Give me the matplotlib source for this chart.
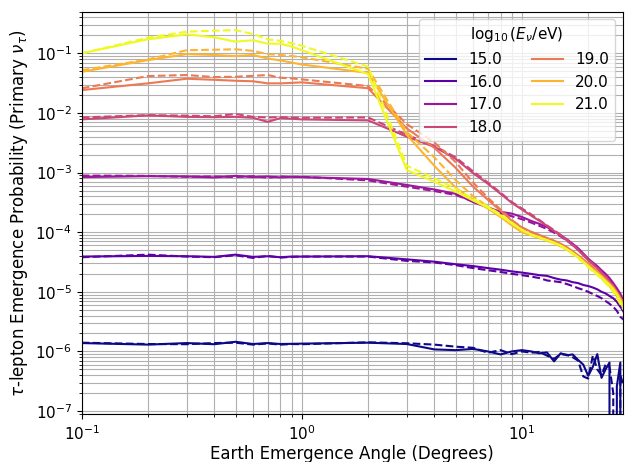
import matplotlib
matplotlib.use("Agg")
import matplotlib.pyplot as plt
import numpy as np

# emergence angles (degrees)
angles = [0.1, 0.2, 0.3, 0.4, 0.5, 0.6, 0.7, 0.8, 0.9,
          1, 2, 3, 4, 5, 6, 7, 8, 9, 10,
          11, 12, 13, 14, 15, 16, 17, 18, 19, 20,
          21, 22, 23, 24, 25, 26, 27, 28, 29]

energies = [15.0, 16.0, 17.0, 18.0, 19.0, 20.0, 21.0]

# solid: first model, dashed: second model
p15 = [1.38e-6, 1.3e-6, 1.38e-6, 1.32e-6, 1.45e-6, 1.33e-6, 1.38e-6, 1.33e-6, 1.34e-6,
       1.35e-6, 1.4e-6, 1.33e-6, 1.08e-6, 1.05e-6, 1.1e-6, 1.0e-6, 8.9e-7, 1.0e-6, 1.05e-6,
       1.0e-6, 9.3e-7, 9.6e-7, 6.8e-7, 9.3e-7, 8.6e-7, 8.9e-7, 7.2e-7, 6.0e-7, 3.9e-7,
       5.5e-7, 9.0e-7, 3.6e-7, 5.0e-7, 6.5e-7, 0, 2.6e-7, 6.5e-7, 0]
p15_alt = [1.4e-6, 1.33e-6, 1.32e-6, 1.38e-6, 1.4e-6, 1.3e-6, 1.36e-6, 1.3e-6, 1.33e-6,
           1.32e-6, 1.42e-6, 1.37e-6, 1.3e-6, 1.2e-6, 1.15e-6, 9.5e-7, 1.05e-6, 9.0e-7, 1.0e-6,
           9.5e-7, 9.8e-7, 8.5e-7, 7.5e-7, 9.0e-7, 8.8e-7, 8.0e-7, 7.0e-7, 3.8e-7, 3.5e-7,
           8.5e-7, 5.0e-7, 4.0e-7, 6.0e-7, 5.5e-7, 2.0e-7, 0, 4.0e-7, 2.6e-7]

p16 = [3.9e-5, 4.0e-5, 3.95e-5, 3.85e-5, 4.2e-5, 3.85e-5, 3.95e-5, 3.8e-5, 3.9e-5,
       3.9e-5, 3.95e-5, 3.5e-5, 3.2e-5, 2.9e-5, 2.7e-5, 2.5e-5, 2.35e-5, 2.2e-5, 2.1e-5,
       2.0e-5, 1.9e-5, 1.85e-5, 1.7e-5, 1.6e-5, 1.55e-5, 1.45e-5, 1.4e-5, 1.3e-5, 1.25e-5,
       1.18e-5, 1.1e-5, 1.0e-5, 9.4e-6, 8.5e-6, 7.8e-6, 6.8e-6, 5.6e-6, 4.6e-6]
p16_alt = [3.8e-5, 4.2e-5, 3.9e-5, 3.8e-5, 4.1e-5, 3.7e-5, 4.0e-5, 3.75e-5, 3.85e-5,
           3.9e-5, 3.9e-5, 3.3e-5, 3.1e-5, 2.8e-5, 2.5e-5, 2.3e-5, 2.15e-5, 2.0e-5, 1.9e-5,
           1.8e-5, 1.7e-5, 1.55e-5, 1.5e-5, 1.45e-5, 1.35e-5, 1.25e-5, 1.15e-5, 1.08e-5, 1.0e-5,
           9.2e-6, 8.5e-6, 7.8e-6, 7.0e-6, 6.3e-6, 5.6e-6, 4.8e-6, 3.8e-6, 3.4e-6]

p17 = [8.4e-4, 8.7e-4, 8.6e-4, 8.3e-4, 8.8e-4, 8.4e-4, 8.6e-4, 8.3e-4, 8.5e-4,
       8.4e-4, 7.8e-4, 6.2e-4, 5.2e-4, 4.4e-4, 3.2e-4, 2.6e-4, 2.2e-4, 2.05e-4, 1.8e-4,
       1.55e-4, 1.38e-4, 1.22e-4, 1.04e-4, 8.9e-5, 7.6e-5, 6.4e-5, 5.4e-5, 4.4e-5, 3.6e-5,
       3.1e-5, 2.7e-5, 2.3e-5, 2.0e-5, 1.7e-5, 1.4e-5, 1.15e-5, 9.3e-6, 7.0e-6]
p17_alt = [8.9e-4, 8.8e-4, 8.5e-4, 8.6e-4, 8.4e-4, 8.7e-4, 8.2e-4, 8.6e-4, 8.4e-4,
           8.5e-4, 7.4e-4, 5.8e-4, 4.9e-4, 4.2e-4, 3.3e-4, 2.6e-4, 2.1e-4, 1.85e-4, 1.65e-4,
           1.45e-4, 1.28e-4, 1.13e-4, 9.8e-5, 8.5e-5, 7.2e-5, 6.1e-5, 5.2e-5, 4.3e-5, 3.5e-5,
           3.0e-5, 2.6e-5, 2.2e-5, 1.9e-5, 1.6e-5, 1.3e-5, 1.05e-5, 8.3e-6, 6.5e-6]

p18 = [0.0078, 0.0091, 0.0086, 0.0085, 0.0086, 0.0083, 0.0071, 0.0082, 0.0080,
       0.0078, 0.0075, 4.0e-3, 2.7e-3, 1.7e-3, 9.8e-4, 6.5e-4, 4.4e-4, 3.1e-4, 2.4e-4,
       1.9e-4, 1.55e-4, 1.28e-4, 1.05e-4, 8.8e-5, 7.3e-5, 6.1e-5, 5.0e-5, 4.1e-5, 3.4e-5,
       2.9e-5, 2.5e-5, 2.1e-5, 1.8e-5, 1.5e-5, 1.25e-5, 1.0e-5, 8.0e-6, 6.3e-6]
p18_alt = [0.0084, 0.0092, 0.0090, 0.0088, 0.0096, 0.0086, 0.0084, 0.0085, 0.0084,
           0.0083, 0.0084, 4.3e-3, 2.8e-3, 1.8e-3, 1.05e-3, 6.8e-4, 4.6e-4, 3.2e-4, 2.5e-4,
           2.0e-4, 1.6e-4, 1.3e-4, 1.08e-4, 9.0e-5, 7.4e-5, 6.2e-5, 5.1e-5, 4.2e-5, 3.5e-5,
           2.95e-5, 2.5e-5, 2.1e-5, 1.8e-5, 1.5e-5, 1.25e-5, 1.0e-5, 7.8e-6, 6.0e-6]

p19 = [0.0242, 0.0314, 0.0375, 0.0360, 0.0347, 0.0340, 0.0314, 0.0314, 0.0320,
       0.0326, 0.0260, 5.5e-3, 2.6e-3, 1.2e-3, 5.8e-4, 3.5e-4, 2.3e-4, 1.55e-4, 1.2e-4,
       1.02e-4, 9.0e-5, 8.0e-5, 7.2e-5, 6.4e-5, 5.6e-5, 4.8e-5, 4.1e-5, 3.5e-5, 3.0e-5,
       2.6e-5, 2.2e-5, 1.9e-5, 1.65e-5, 1.4e-5, 1.2e-5, 1.0e-5, 8.0e-6, 6.3e-6]
p19_alt = [0.0259, 0.0416, 0.0433, 0.0400, 0.0405, 0.0420, 0.0433, 0.0390, 0.0380,
           0.0366, 0.0283, 6.5e-3, 3.2e-3, 1.5e-3, 6.8e-4, 3.8e-4, 2.4e-4, 1.6e-4, 1.2e-4,
           1.0e-4, 8.8e-5, 7.8e-5, 7.0e-5, 6.2e-5, 5.4e-5, 4.7e-5, 4.0e-5, 3.4e-5, 2.9e-5,
           2.5e-5, 2.15e-5, 1.85e-5, 1.6e-5, 1.35e-5, 1.15e-5, 9.5e-6, 7.5e-6, 6.0e-6]

p20 = [0.049, 0.077, 0.097, 0.094, 0.090, 0.094, 0.082, 0.076, 0.070,
       0.065, 0.047, 4.3e-3, 1.3e-3, 5.6e-4, 3.5e-4, 2.5e-4, 1.8e-4, 1.3e-4, 1.0e-4,
       8.9e-5, 8.0e-5, 7.3e-5, 6.6e-5, 5.9e-5, 5.2e-5, 4.5e-5, 3.9e-5, 3.3e-5, 2.8e-5,
       2.4e-5, 2.1e-5, 1.8e-5, 1.55e-5, 1.35e-5, 1.15e-5, 9.5e-6, 7.5e-6, 6.0e-6]
p20_alt = [0.052, 0.079, 0.113, 0.115, 0.117, 0.110, 0.097, 0.094, 0.090,
           0.086, 0.055, 4.8e-3, 1.8e-3, 7.5e-4, 4.0e-4, 2.7e-4, 1.9e-4, 1.35e-4, 1.03e-4,
           9.0e-5, 8.0e-5, 7.2e-5, 6.5e-5, 5.8e-5, 5.1e-5, 4.4e-5, 3.8e-5, 3.2e-5, 2.7e-5,
           2.3e-5, 2.0e-5, 1.7e-5, 1.45e-5, 1.25e-5, 1.05e-5, 8.5e-6, 6.8e-6, 5.5e-6]

p21 = [0.100, 0.172, 0.208, 0.186, 0.157, 0.166, 0.145, 0.145, 0.130,
       0.113, 0.045, 1.1e-3, 7.0e-4, 4.8e-4, 3.4e-4, 2.6e-4, 1.9e-4, 1.4e-4, 1.08e-4,
       9.2e-5, 8.2e-5, 7.4e-5, 6.7e-5, 6.0e-5, 5.2e-5, 4.5e-5, 3.8e-5, 3.2e-5, 2.7e-5,
       2.3e-5, 2.0e-5, 1.75e-5, 1.5e-5, 1.3e-5, 1.1e-5, 9.0e-6, 7.0e-6, 5.5e-6]
p21_alt = [0.100, 0.183, 0.231, 0.240, 0.246, 0.211, 0.172, 0.162, 0.148,
           0.134, 0.060, 1.3e-3, 8.0e-4, 5.4e-4, 3.6e-4, 2.7e-4, 2.0e-4, 1.45e-4, 1.1e-4,
           9.0e-5, 8.0e-5, 7.2e-5, 6.5e-5, 5.8e-5, 5.0e-5, 4.3e-5, 3.6e-5, 3.1e-5, 2.6e-5,
           2.2e-5, 1.9e-5, 1.65e-5, 1.4e-5, 1.2e-5, 1.0e-5, 8.0e-6, 6.2e-6, 5.0e-6]

solid = [p15, p16, p17, p18, p19, p20, p21]
dashed = [p15_alt, p16_alt, p17_alt, p18_alt, p19_alt, p20_alt, p21_alt]
colors = plt.cm.plasma(np.linspace(0, 1, len(energies)))

plt.rcParams["font.size"] = 11

fig = plt.figure(figsize=(6.25, 4.62), dpi=100)
ax = fig.add_axes([0.1307, 0.1032, 0.8656, 0.8715])

for e, ys, yd, c in zip(energies, solid, dashed, colors):
    ax.plot(angles, ys, color=c, lw=1.5, label=f"{e:.1f}")
    ax.plot(angles, yd, color=c, lw=1.5, ls="--")

ax.set_xscale("log")
ax.set_yscale("log")
ax.set_xlim(0.1, 28.7)
ax.set_ylim(8.8e-8, 0.5)
ax.grid(which="both")
ax.set_xlabel("Earth Emergence Angle (Degrees)", fontsize=12, labelpad=1.5)
ax.set_ylabel(r"$\tau$-lepton Emergence Probability (Primary $\nu_\tau$)", fontsize=12)
ax.legend(title=r"$\log_{10}(E_\nu/\mathrm{eV})$", ncol=2, loc="upper right")

fig.savefig("out.png", dpi=100)
